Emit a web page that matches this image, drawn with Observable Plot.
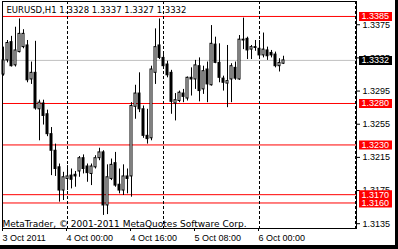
<!DOCTYPE html>
<html><head><meta charset="utf-8">
<script src="https://cdn.jsdelivr.net/npm/d3@7"></script>
<script src="https://cdn.jsdelivr.net/npm/@observablehq/plot@0.6"></script>
<style>
html,body{margin:0;padding:0;background:#fff;}
#wrap{position:relative;width:398px;height:249px;overflow:hidden;background:#fff;}
#wrap svg{display:block;max-width:none;}
.bR{position:absolute;right:0;top:0;width:3px;height:249px;background:#000;}
.bB{position:absolute;left:0;bottom:0;width:398px;height:4px;background:#000;}
</style></head><body><div id="wrap"></div>
<script>
const header = "EURUSD,H1 1.3328 1.3337 1.3327 1.3332";
const copyright = "MetaTrader, \u00A9 2001-2011 MetaQuotes Software Corp.";
const startTime = "2011-10-03T08:00Z"; // first hourly bar
const open = [1.3315,1.3332,1.3354,1.3326,1.3342,1.3348,1.3350,1.3309,1.3317,1.3273,
  1.3280,1.3267,1.3243,1.3223,1.3203,1.3175,1.3189,1.3193,1.3194,1.3198,
  1.3214,1.3204,1.3195,1.3203,1.3214,1.3221,1.3157,1.3189,1.3208,1.3182,
  1.3175,1.3192,1.3192,1.3276,1.3292,1.3273,1.3241,1.3238,1.3317,1.3350,
  1.3335,1.3327,1.3317,1.3280,1.3283,1.3292,1.3286,1.3311,1.3309,1.3325,
  1.3297,1.3321,1.3302,1.3351,1.3329,1.3310,1.3304,1.3309,1.3323,1.3309,
  1.3357,1.3358,1.3345,1.3348,1.3346,1.3338,1.3344,1.3341,1.3339,1.3325,1.3328];
const high = [1.3348,1.3356,1.3361,1.3372,1.3382,1.3369,1.3356,1.3330,1.3355,1.3284,
  1.3284,1.3272,1.3251,1.3231,1.3207,1.3197,1.3205,1.3201,1.3198,1.3216,
  1.3218,1.3207,1.3207,1.3217,1.3226,1.3223,1.3206,1.3213,1.3221,1.3201,
  1.3206,1.3201,1.3281,1.3302,1.3317,1.3277,1.3273,1.3325,1.3370,1.3382,
  1.3339,1.3331,1.3320,1.3292,1.3295,1.3297,1.3312,1.3323,1.3332,1.3335,
  1.3325,1.3330,1.3374,1.3360,1.3352,1.3313,1.3350,1.3328,1.3330,1.3362,
  1.3383,1.3360,1.3350,1.3356,1.3356,1.3365,1.3348,1.3344,1.3342,1.3334,1.3337];
const low = [1.3313,1.3329,1.3324,1.3324,1.3341,1.3346,1.3305,1.3303,1.3272,1.3235,
  1.3254,1.3240,1.3193,1.3192,1.3161,1.3163,1.3175,1.3177,1.3179,1.3191,
  1.3195,1.3185,1.3181,1.3201,1.3211,1.3145,1.3146,1.3187,1.3179,1.3171,
  1.3169,1.3171,1.3167,1.3261,1.3269,1.3238,1.3231,1.3235,1.3303,1.3333,
  1.3323,1.3311,1.3267,1.3259,1.3281,1.3281,1.3283,1.3289,1.3297,1.3282,
  1.3291,1.3281,1.3301,1.3328,1.3305,1.3295,1.3275,1.3281,1.3308,1.3308,
  1.3345,1.3333,1.3333,1.3343,1.3333,1.3335,1.3332,1.3335,1.3323,1.3318,1.3327];
const close = [1.3332,1.3353,1.3325,1.3344,1.3364,1.3364,1.3308,1.3317,1.3274,1.3281,
  1.3265,1.3243,1.3223,1.3201,1.3175,1.3191,1.3192,1.3188,1.3192,1.3214,
  1.3201,1.3196,1.3204,1.3214,1.3221,1.3157,1.3191,1.3206,1.3181,1.3175,
  1.3192,1.3189,1.3277,1.3292,1.3273,1.3241,1.3237,1.3321,1.3348,1.3335,
  1.3325,1.3314,1.3282,1.3284,1.3293,1.3288,1.3311,1.3309,1.3326,1.3295,
  1.3319,1.3303,1.3352,1.3329,1.3311,1.3305,1.3307,1.3325,1.3310,1.3357,
  1.3356,1.3344,1.3348,1.3347,1.3338,1.3345,1.3337,1.3338,1.3325,1.3329,1.3332];
const levels = [1.3385, 1.3280, 1.3230, 1.3170, 1.3160];
const bid = 1.3332;
const priceTicks = [1.3375, 1.3335, 1.3295, 1.3255, 1.3215, 1.3175, 1.3135];
const timeTicks = ["2011-10-03T08:00Z","2011-10-04T00:00Z","2011-10-04T16:00Z","2011-10-05T08:00Z","2011-10-06T00:00Z"];
const timeLabels = ["3 Oct 2011","4 Oct 00:00","4 Oct 16:00","5 Oct 08:00","6 Oct 00:00"];
const separators = ["2011-10-04T00:00Z","2011-10-05T00:00Z","2011-10-06T00:00Z","2011-10-07T00:00Z"];
const xDomain = ["2011-10-03T07:45Z", "2011-10-07T00:15Z"];
const yDomain = [1.312921, 1.340304];

const t0 = Date.parse(startTime);
const candles = open.map((o, i) => ({t: new Date(t0 + i * 3600e3), open: o, high: high[i], low: low[i], close: close[i]}));
const half = 15 * 60e3;
const fmt = d3.format(".4f");
const toDate = s => new Date(s);
const tickDates = timeTicks.map(toDate);
const labelFor = d => timeLabels[tickDates.findIndex(t => +t === +d)];
const body = (bull) => ({
  filter: d => bull ? d.close >= d.open : d.close < d.open,
  x1: d => new Date(+d.t - half), x2: d => new Date(+d.t + half),
  y1: "open", y2: "close", fill: bull ? "#fff" : "#000", stroke: "#000"
});

const chart = Plot.plot({
  width: 398, height: 249,
  marginLeft: 2, marginRight: 42, marginTop: 1, marginBottom: 21,
  style: {background: "#fff", color: "#000", fontFamily: "'Liberation Sans', Arial, sans-serif", fontSize: "9px"},
  x: {type: "utc", domain: xDomain.map(toDate)},
  y: {domain: yDomain},
  marks: [
    Plot.ruleY(levels, {stroke: "#ff0000"}),
    Plot.ruleY([bid], {stroke: "#c0c0c0"}),
    Plot.ruleX(separators.map(toDate), {stroke: "#000", strokeDasharray: "3,2"}),
    Plot.ruleX(candles, {x: "t", y1: "low", y2: "high", stroke: "#000"}),
    Plot.rect(candles, body(true)),
    Plot.rect(candles, body(false)),
    Plot.frame({stroke: "#000"}),
    Plot.axisY(priceTicks, {anchor: "right", tickSize: 3, tickPadding: 3, tickFormat: fmt, label: null}),
    Plot.axisX(tickDates, {anchor: "bottom", tickSize: 3, tickPadding: 3, tickFormat: labelFor, textAnchor: "start", dx: -1, label: null}),
    Plot.ruleY(levels, {stroke: "#ff0000", strokeWidth: 9, insetLeft: 357, insetRight: -36}),
    Plot.text(levels, {y: d => d, text: fmt, frameAnchor: "right", dx: 5, textAnchor: "start", fill: "#fff"}),
    Plot.ruleY([bid], {stroke: "#000", strokeWidth: 9, insetLeft: 357, insetRight: -36}),
    Plot.text([bid], {y: d => d, text: fmt, frameAnchor: "right", dx: 5, textAnchor: "start", fill: "#fff"}),
    Plot.text([header], {text: d => d, frameAnchor: "top-left", dx: 4, dy: 8.3, lineAnchor: "middle", textAnchor: "start", fontFamily: "'DejaVu Sans', sans-serif", fontSize: 8.5, fill: "#000"}),
    Plot.text([copyright], {text: d => d, frameAnchor: "bottom-left", dx: 0, dy: -4.5, lineAnchor: "middle", textAnchor: "start", fontFamily: "'DejaVu Sans', sans-serif", fontSize: 9, fill: "#000"})
  ]
});
const wrap = document.getElementById("wrap");
wrap.appendChild(chart);
const r = document.createElement("div"); r.className = "bR"; wrap.appendChild(r);
const b = document.createElement("div"); b.className = "bB"; wrap.appendChild(b);
</script>
</body></html>
